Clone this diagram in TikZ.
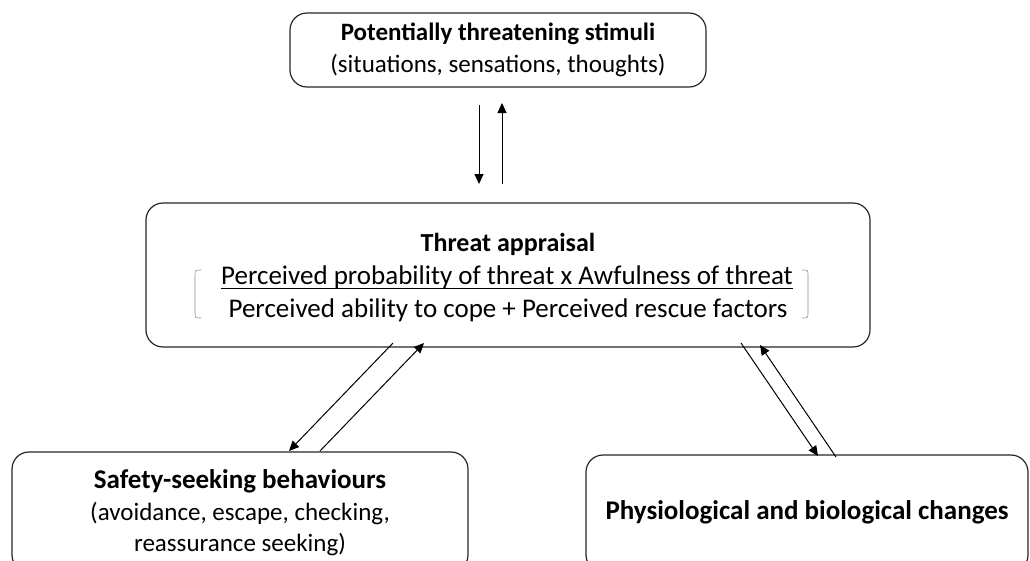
\documentclass[tikz,border=0pt]{standalone}
\usepackage{fontspec}
\setmainfont{Carlito}
\usetikzlibrary{arrows.meta}
\begin{document}
\begin{tikzpicture}[x=1pt,y=-1pt,
  box/.style={draw=black!85, line width=1.2pt, rounded corners=17pt, inner sep=0pt},
  txt/.style={inner sep=0pt, anchor=base, font=\fontsize{26}{30}\selectfont},
  ttl/.style={txt, font=\fontsize{26}{30}\selectfont\bfseries},
  link/.style={line width=1pt, -{Triangle[length=10pt,width=9pt]}},
  paren/.style={draw=black!45, line width=0.6pt}]
\useasboundingbox (0,0) rectangle (1030,560);

% boxes
\node[box, minimum width=416pt, minimum height=74pt] (stim) at (498,50) {};
\node[box, minimum width=724pt, minimum height=144pt] (appr) at (508,275) {};
\node[box, minimum width=456pt, minimum height=120pt] (safe) at (240,512) {};
\node[box, minimum width=442pt, minimum height=117pt] (phys) at (807,513.5) {};

% texts
\node[ttl, font=\fontsize{25}{30}\selectfont\bfseries] (stimT) at (498,40) {Potentially threatening stimuli};
\node[txt, font=\fontsize{25}{30}\selectfont] (stimS) at (498,72) {(situations, sensations, thoughts)};

\node[ttl] (apprT) at (508,251) {Threat appraisal};
\node[txt, font=\fontsize{27}{30}\selectfont] (num) at (507,284) {Perceived probability of threat x Awfulness of threat};
\node[txt, font=\fontsize{27}{30}\selectfont] (den) at (508,317) {Perceived ability to cope + Perceived rescue factors};
\draw[line width=1pt] ([yshift=-4pt]num.base west) -- ([yshift=-4pt]num.base east);

\node[ttl, font=\fontsize{27}{30}\selectfont\bfseries] (safeT) at (240,488) {Safety-seeking behaviours};
\node[txt, font=\fontsize{25}{30}\selectfont] (safeS) at (240,520) {(avoidance, escape, checking,};
\node[txt, font=\fontsize{25}{30}\selectfont] (safeS2) at (240,551) {reassurance seeking)};

\node[ttl, font=\fontsize{27}{30}\selectfont\bfseries] (physT) at (807,519) {Physiological and biological changes};

% bracket around the ratio
\draw[paren] (201,270) .. controls (195,270) .. (195,276) -- (195,312)
  .. controls (195,318) .. (201,318);
\draw[paren] (802,270) .. controls (808,270) .. (808,276) -- (808,312)
  .. controls (808,318) .. (802,318);

% connector ends
\coordinate (d1) at (479,105);
\coordinate (d2) at (479,184);
\coordinate (u1) at (502,184);
\coordinate (u2) at (502,103);
\coordinate (sa1) at (393,343);
\coordinate (sa2) at (289,451);
\coordinate (sb1) at (320,451);
\coordinate (sb2) at (424,343);
\coordinate (pa1) at (741,343);
\coordinate (pa2) at (818,456);
\coordinate (pb1) at (836,457);
\coordinate (pb2) at (760,345);

\draw[link] (d1) -- (d2);
\draw[link] (u1) -- (u2);
\draw[link] (sa1) -- (sa2);
\draw[link] (sb1) -- (sb2);
\draw[link] (pa1) -- (pa2);
\draw[link] (pb1) -- (pb2);
\end{tikzpicture}
\end{document}
